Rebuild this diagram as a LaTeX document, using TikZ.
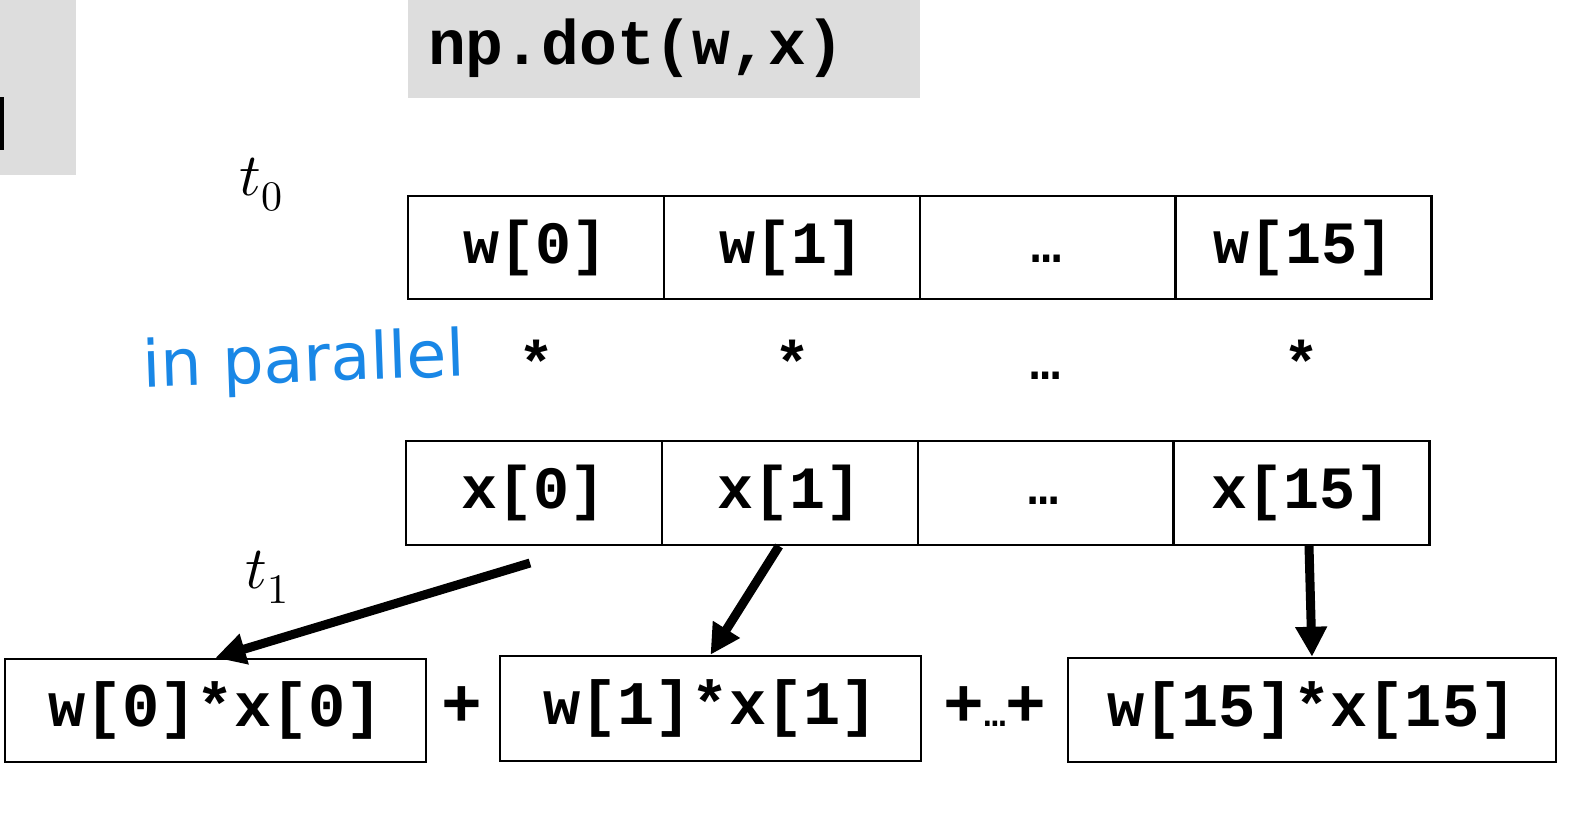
\documentclass[tikz,border=0pt]{standalone}
\usepackage{fontspec}
\usepackage{unicode-math}
\usetikzlibrary{arrows.meta}
\newfontfamily\courb{Liberation Mono}[UprightFont=* Bold]
\newfontfamily\handfont{DejaVu Sans}
\definecolor{panelgray}{RGB}{221,221,221}
\definecolor{handblue}{RGB}{25,135,230}
\tikzset{
  cell/.style={draw=black, line width=2.5pt, minimum width=256pt, inner sep=0pt, font=\courb\fontsize{60}{60}\selectfont},
  prod/.style={draw=black, line width=2.5pt, inner sep=0pt, font=\courb\fontsize{62}{62}\selectfont},
  dotsf/.style={font=\courb\fontsize{50}{50}\selectfont, inner sep=0pt},
  starf/.style={font=\courb\fontsize{60}{60}\selectfont, inner sep=0pt},
  plusf/.style={font=\courb\fontsize{68}{68}\selectfont, inner sep=0pt},
  mathlbl/.style={font=\fontsize{60}{64}\selectfont, inner sep=0pt},
  arr/.style={line width=9pt, -{Triangle[length=30pt,width=30pt]}},
}
\begin{document}
\begin{tikzpicture}[x=1pt,y=-1pt]
\useasboundingbox (0,0) rectangle (1576,817);
\fill[white] (0,0) rectangle (1576,817);
% gray panels
\fill[panelgray] (0,0) rectangle (76,175);
\fill[black] (0,97) rectangle (4,150);
\node[fill=panelgray, minimum width=512pt, minimum height=98pt, inner sep=0pt, anchor=north west] (title) at (408,0) {};
\node[font=\courb\fontsize{63}{63}\selectfont, inner sep=0pt] (titletext) at (636,48) {np.dot(w,x)};
% labels
\node[mathlbl] (t0) at (261,185) {$t_0$};
\node[mathlbl] (t1) at (267,577) {$t_1$};
\node[font=\handfont\fontsize{65}{65}\selectfont, text=handblue, rotate=2, inner sep=0pt] (par) at (304,364) {in parallel};
% w row
\node[cell, minimum height=103pt] (w0) at (536,247.5) {w[0]};
\node[cell, minimum height=103pt] (w1) at (792,247.5) {w[1]};
\node[cell, minimum height=103pt] (w2) at (1048,247.5) {};
\node[dotsf] (w2d) at (1046,259) {…};
\node[cell, minimum height=103pt] (w15) at (1303.5,247.5) {w[15]};
% stars
\node[starf] (s0) at (536,362) {*};
\node[starf] (s1) at (792,362) {*};
\node[dotsf] (s2) at (1045,376) {…};
\node[starf] (s15) at (1301,362) {*};
% x row
\node[cell, minimum height=104pt] (x0) at (534,493) {x[0]};
\node[cell, minimum height=104pt] (x1) at (790,493) {x[1]};
\node[cell, minimum height=104pt] (x2) at (1046,493) {};
\node[dotsf] (x2d) at (1043,501) {…};
\node[cell, minimum height=104pt] (x15) at (1301.5,493) {x[15]};
% products
\node[prod, minimum width=421pt, minimum height=103pt] (p0) at (215.5,710.5) {w[0]*x[0]};
\node[prod, minimum width=421pt, minimum height=105pt] (p1) at (710.5,708.5) {w[1]*x[1]};
\node[prod, minimum width=488pt, minimum height=104pt] (p15) at (1312,710) {w[15]*x[15]};
\node[plusf] (plus1) at (462,707) {+};
\node[inner sep=0pt] (plus2) at (995,707) {{\courb\fontsize{68}{68}\selectfont +}{\courb\fontsize{36}{36}\selectfont …}{\courb\fontsize{68}{68}\selectfont +}};
% arrows
\coordinate (a0) at (530,563);
\coordinate (a1) at (779,546);
\coordinate (a15) at (1309,546);
\draw[arr] (a0) -- (p0.north);
\draw[arr] (a1) -- (p1.north);
\draw[arr] (a15) -- (p15.north);
\end{tikzpicture}
\end{document}
